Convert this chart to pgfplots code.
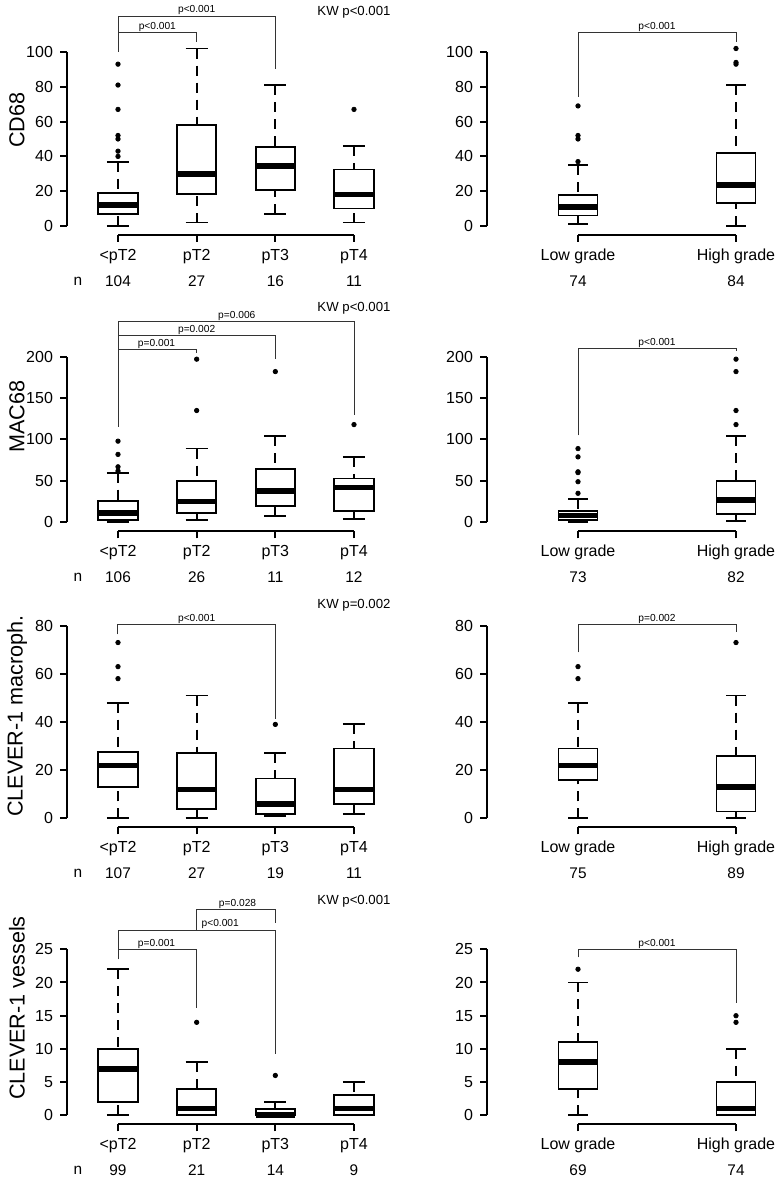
\documentclass[border=0pt]{standalone}
\usepackage{fontspec}
\setmainfont{Liberation Sans}
\usepackage{pgfplots}
\pgfplotsset{compat=1.18}
\usepgfplotslibrary{statistics}
\newcommand{\tf}{\fontsize{8}{9.6}\selectfont}
\newcommand{\nf}{\fontsize{7.7}{9}\selectfont}
\newcommand{\pf}{\fontsize{5.1}{6}\selectfont}
\newcommand{\kf}{\fontsize{6.6}{8}\selectfont}
\newcommand{\lf}{\fontsize{10.8}{13}\selectfont}
\definecolor{brk}{HTML}{333333}
\tikzset{br/.style={brk, line width=0.5pt}}
\pgfplotsset{
  /pgfplots/boxplot/every box/.style={fill=white, line width=0.9pt},
  /pgfplots/boxplot/every median/.style={line width=2.8pt},
  /pgfplots/boxplot/draw/lower whisker/.code={%
    \draw[line width=0.9pt, dash pattern=on 5pt off 3.5pt]
      (boxplot cs:\pgfplotsboxplotvalue{lower whisker}) -- (boxplot cs:\pgfplotsboxplotvalue{lower quartile});
    \draw[line width=0.9pt]
      (boxplot whisker cs:\pgfplotsboxplotvalue{lower whisker},0) -- (boxplot whisker cs:\pgfplotsboxplotvalue{lower whisker},1);
  },
  /pgfplots/boxplot/draw/upper whisker/.code={%
    \draw[line width=0.9pt, dash pattern=on 5pt off 3.5pt]
      (boxplot cs:\pgfplotsboxplotvalue{upper whisker}) -- (boxplot cs:\pgfplotsboxplotvalue{upper quartile});
    \draw[line width=0.9pt]
      (boxplot whisker cs:\pgfplotsboxplotvalue{upper whisker},0) -- (boxplot whisker cs:\pgfplotsboxplotvalue{upper whisker},1);
  },
  base/.style={
    scale only axis, clip=false,
    axis x line=bottom, axis y line=left,
    axis line style={-, line width=1pt, black},
    axis x line shift=4.5pt,
    tick align=outside, major tick length=3.5pt,
    tick style={line width=1pt, black},
    xticklabel style={font=\tf},
    yticklabel style={font=\tf},
    /pgf/number format/assume math mode=true,
    boxplot/draw direction=y,
    anchor=south west,
  },
  lp/.style={base, xmin=1, xmax=4, width=118pt, xtick={1,2,3,4},
    xticklabels={{<pT2},{pT2},{pT3},{pT4}}, axis y line shift=25.5pt,
    boxplot/box extend=0.5, boxplot/whisker extend=0.28},
  rp/.style={base, xmin=1, xmax=2, width=79pt, xtick={1,2},
    xticklabels={{Low grade},{High grade}}, axis y line shift=45.5pt,
    boxplot/box extend=0.247, boxplot/whisker extend=0.125},
  bx/.style={black, mark=*, mark size=1.1pt, mark options={fill=black, solid}},
}
\begin{document}
\begin{tikzpicture}
\useasboundingbox (0,0) rectangle (389pt,589pt);
% ---------------- Row 1 : CD68 ----------------
\begin{axis}[lp, at={(59pt,476pt)}, height=87pt, ymin=0, ymax=100, ytick={0,20,...,100},
  ylabel={CD68}, ylabel style={font=\lf, at={(axis description cs:-0.428,0.609)}, anchor=center}]
\addplot[bx, boxplot prepared={draw position=1, lower whisker=0, lower quartile=7, median=12, upper quartile=19, upper whisker=37}]
  coordinates {(0,93) (0,81) (0,67) (0,52) (0,50) (0,43) (0,40)};
\addplot[bx, boxplot prepared={draw position=2, lower whisker=2, lower quartile=18.5, median=30, upper quartile=58, upper whisker=102}]
  coordinates {};
\addplot[bx, boxplot prepared={draw position=3, lower whisker=7, lower quartile=20.5, median=34.5, upper quartile=45.5, upper whisker=81}]
  coordinates {};
\addplot[bx, boxplot prepared={draw position=4, lower whisker=2, lower quartile=10, median=18, upper quartile=32.5, upper whisker=46}]
  coordinates {(0,67)};
\draw[br] (axis cs:1,100) -- (axis cs:1,120.6) -- (axis cs:3,120.6) -- (axis cs:3,90.2);
\draw[br] (axis cs:1,111) -- (axis cs:2,111) -- (axis cs:2,106);
\node[font=\pf, anchor=base, yshift=1.6pt, inner sep=0pt] at (axis cs:1.5,111) {p<0.001};
\node[font=\pf, anchor=base, yshift=1.6pt, inner sep=0pt] at (axis cs:2,120.6) {p<0.001};
\node[font=\kf] at (axis cs:4,122.6) {KW p<0.001};
\node[font=\nf] at (axis cs:0.49,0) [yshift=-27.5pt] {n};
\node[font=\nf] at (axis cs:1,0) [yshift=-27.5pt] {104};
\node[font=\nf] at (axis cs:2,0) [yshift=-27.5pt] {27};
\node[font=\nf] at (axis cs:3,0) [yshift=-27.5pt] {16};
\node[font=\nf] at (axis cs:4,0) [yshift=-27.5pt] {11};
\end{axis}
\begin{axis}[rp, at={(289pt,476pt)}, height=87pt, ymin=0, ymax=100, ytick={0,20,...,100}]
\addplot[bx, boxplot prepared={draw position=1, lower whisker=1, lower quartile=6, median=11, upper quartile=18, upper whisker=35}]
  coordinates {(0,69) (0,52) (0,50) (0,37)};
\addplot[bx, boxplot prepared={draw position=2, lower whisker=0, lower quartile=13, median=23.5, upper quartile=42, upper whisker=81}]
  coordinates {(0,102) (0,94) (0,93)};
\draw[br] (axis cs:1,74.4) -- (axis cs:1,111) -- (axis cs:2,111) -- (axis cs:2,106);
\node[font=\pf, anchor=base, yshift=1.6pt, inner sep=0pt] at (axis cs:1.5,111) {p<0.001};
\node[font=\nf] at (axis cs:1,0) [yshift=-27.5pt] {74};
\node[font=\nf] at (axis cs:2,0) [yshift=-27.5pt] {84};
\end{axis}
% ---------------- Row 2 : MAC68 ----------------
\begin{axis}[lp, at={(59pt,327.85pt)}, height=82.8pt, ymin=0, ymax=200, ytick={0,50,...,200},
  ylabel={MAC68}, ylabel style={font=\lf, at={(axis description cs:-0.428,0.636)}, anchor=center}]
\addplot[bx, boxplot prepared={draw position=1, lower whisker=0, lower quartile=3, median=11, upper quartile=26, upper whisker=60}]
  coordinates {(0,98) (0,82) (0,67) (0,62)};
\addplot[bx, boxplot prepared={draw position=2, lower whisker=3, lower quartile=11, median=25, upper quartile=50, upper whisker=89}]
  coordinates {(0,197) (0,135)};
\addplot[bx, boxplot prepared={draw position=3, lower whisker=8, lower quartile=20, median=38, upper quartile=64, upper whisker=104}]
  coordinates {(0,182)};
\addplot[bx, boxplot prepared={draw position=4, lower whisker=4, lower quartile=14, median=42, upper quartile=53, upper whisker=79}]
  coordinates {(0,118)};
\draw[br] (axis cs:1,115.5) -- (axis cs:1,241.9) -- (axis cs:4,241.9) -- (axis cs:4,129.6);
\draw[br] (axis cs:1,225.4) -- (axis cs:3,225.4) -- (axis cs:3,196.8);
\draw[br] (axis cs:1,208.9) -- (axis cs:2,208.9) -- (axis cs:2,204.8);
\node[font=\pf, anchor=base, yshift=1.6pt, inner sep=0pt] at (axis cs:1.49,208.9) {p=0.001};
\node[font=\pf, anchor=base, yshift=1.6pt, inner sep=0pt] at (axis cs:2.0,225.4) {p=0.002};
\node[font=\pf, anchor=base, yshift=1.6pt, inner sep=0pt] at (axis cs:2.51,241.9) {p=0.006};
\node[font=\kf] at (axis cs:4,258.4) {KW p<0.001};
\node[font=\nf] at (axis cs:0.49,0) [yshift=-27.5pt] {n};
\node[font=\nf] at (axis cs:1,0) [yshift=-27.5pt] {106};
\node[font=\nf] at (axis cs:2,0) [yshift=-27.5pt] {26};
\node[font=\nf] at (axis cs:3,0) [yshift=-27.5pt] {11};
\node[font=\nf] at (axis cs:4,0) [yshift=-27.5pt] {12};
\end{axis}
\begin{axis}[rp, at={(289pt,327.85pt)}, height=82.8pt, ymin=0, ymax=200, ytick={0,50,...,200}]
\addplot[bx, boxplot prepared={draw position=1, lower whisker=0, lower quartile=3, median=8, upper quartile=14, upper whisker=28}]
  coordinates {(0,89) (0,79) (0,61) (0,60) (0,49) (0,35)};
\addplot[bx, boxplot prepared={draw position=2, lower whisker=2, lower quartile=10, median=27, upper quartile=50, upper whisker=104}]
  coordinates {(0,197) (0,182) (0,135) (0,118)};
\draw[br] (axis cs:1,105) -- (axis cs:1,209.7) -- (axis cs:2,209.7) -- (axis cs:2,206.4);
\node[font=\pf, anchor=base, yshift=1.6pt, inner sep=0pt] at (axis cs:1.5,209.7) {p<0.001};
\node[font=\nf] at (axis cs:1,0) [yshift=-27.5pt] {73};
\node[font=\nf] at (axis cs:2,0) [yshift=-27.5pt] {82};
\end{axis}
% ---------------- Row 3 : CLEVER-1 macroph. ----------------
\begin{axis}[lp, at={(59pt,179.85pt)}, height=96.3pt, ymin=0, ymax=80, ytick={0,20,...,80},
  ylabel={CLEVER-1 macroph.}, ylabel style={font=\lf, at={(axis description cs:-0.428,0.531)}, anchor=center}]
\addplot[bx, boxplot prepared={draw position=1, lower whisker=0, lower quartile=13, median=22, upper quartile=27.5, upper whisker=48}]
  coordinates {(0,73) (0,63) (0,58)};
\addplot[bx, boxplot prepared={draw position=2, lower whisker=0, lower quartile=3.7, median=12, upper quartile=27, upper whisker=51}]
  coordinates {};
\addplot[bx, boxplot prepared={draw position=3, lower whisker=0.8, lower quartile=1.8, median=6, upper quartile=16.5, upper whisker=27}]
  coordinates {(0,39)};
\addplot[bx, boxplot prepared={draw position=4, lower whisker=1.8, lower quartile=5.8, median=12, upper quartile=29, upper whisker=39}]
  coordinates {};
\draw[br] (axis cs:1,76.4) -- (axis cs:1,80.3) -- (axis cs:3,80.3) -- (axis cs:3,41.2);
\node[font=\pf, anchor=base, yshift=1.6pt, inner sep=0pt] at (axis cs:2.0,80.3) {p<0.001};
\node[font=\kf] at (axis cs:4,88.6) {KW p=0.002};
\node[font=\nf] at (axis cs:0.49,0) [yshift=-27.5pt] {n};
\node[font=\nf] at (axis cs:1,0) [yshift=-27.5pt] {107};
\node[font=\nf] at (axis cs:2,0) [yshift=-27.5pt] {27};
\node[font=\nf] at (axis cs:3,0) [yshift=-27.5pt] {19};
\node[font=\nf] at (axis cs:4,0) [yshift=-27.5pt] {11};
\end{axis}
\begin{axis}[rp, at={(289pt,179.85pt)}, height=96.3pt, ymin=0, ymax=80, ytick={0,20,...,80}]
\addplot[bx, boxplot prepared={draw position=1, lower whisker=0, lower quartile=16, median=22, upper quartile=29, upper whisker=48}]
  coordinates {(0,63) (0,58)};
\addplot[bx, boxplot prepared={draw position=2, lower whisker=0, lower quartile=2.8, median=13, upper quartile=26, upper whisker=51}]
  coordinates {(0,73)};
\draw[br] (axis cs:1,68.9) -- (axis cs:1,80.3) -- (axis cs:2,80.3) -- (axis cs:2,77.2);
\node[font=\pf, anchor=base, yshift=1.6pt, inner sep=0pt] at (axis cs:1.5,80.3) {p=0.002};
\node[font=\nf] at (axis cs:1,0) [yshift=-27.5pt] {75};
\node[font=\nf] at (axis cs:2,0) [yshift=-27.5pt] {89};
\end{axis}
% ---------------- Row 4 : CLEVER-1 vessels ----------------
\begin{axis}[lp, at={(59pt,31.35pt)}, height=83pt, ymin=0, ymax=25, ytick={0,5,...,25},
  ylabel={CLEVER-1 vessels}, ylabel style={font=\lf, at={(axis description cs:-0.428,0.646)}, anchor=center}]
\addplot[bx, boxplot prepared={draw position=1, lower whisker=0, lower quartile=2, median=7, upper quartile=10, upper whisker=22}]
  coordinates {};
\addplot[bx, boxplot prepared={draw position=2, lower whisker=0, lower quartile=0, median=1, upper quartile=4, upper whisker=8}]
  coordinates {(0,14)};
\addplot[bx, boxplot prepared={draw position=3, lower whisker=0, lower quartile=0, median=0, upper quartile=1, upper whisker=2}]
  coordinates {(0,6)};
\addplot[bx, boxplot prepared={draw position=4, lower whisker=0, lower quartile=0, median=1, upper quartile=3, upper whisker=5}]
  coordinates {};
\draw[br] (axis cs:1,23.5) -- (axis cs:1,27.9) -- (axis cs:3,27.9) -- (axis cs:3,9.3);
\draw[br] (axis cs:1,25) -- (axis cs:2,25) -- (axis cs:2,16.1);
\draw[br] (axis cs:2,27.9) -- (axis cs:2,31.0) -- (axis cs:3,31.0) -- (axis cs:3,29.0);
\node[font=\pf, anchor=base, yshift=1.6pt, inner sep=0pt] at (axis cs:1.49,25) {p=0.001};
\node[font=\pf, anchor=base, yshift=1.6pt, inner sep=0pt] at (axis cs:2.30,27.9) {p<0.001};
\node[font=\pf, anchor=base, yshift=1.6pt, inner sep=0pt] at (axis cs:2.52,31.0) {p=0.028};
\node[font=\kf] at (axis cs:4,32.3) {KW p<0.001};
\node[font=\nf] at (axis cs:0.49,0) [yshift=-27.5pt] {n};
\node[font=\nf] at (axis cs:1,0) [yshift=-27.5pt] {99};
\node[font=\nf] at (axis cs:2,0) [yshift=-27.5pt] {21};
\node[font=\nf] at (axis cs:3,0) [yshift=-27.5pt] {14};
\node[font=\nf] at (axis cs:4,0) [yshift=-27.5pt] {9};
\end{axis}
\begin{axis}[rp, at={(289pt,31.35pt)}, height=83pt, ymin=0, ymax=25, ytick={0,5,...,25}]
\addplot[bx, boxplot prepared={draw position=1, lower whisker=0, lower quartile=4, median=8, upper quartile=11, upper whisker=20}]
  coordinates {(0,22)};
\addplot[bx, boxplot prepared={draw position=2, lower whisker=0, lower quartile=0, median=1, upper quartile=5, upper whisker=10}]
  coordinates {(0,15) (0,14)};
\draw[br] (axis cs:1,23.8) -- (axis cs:1,25) -- (axis cs:2,25) -- (axis cs:2,16.9);
\node[font=\pf, anchor=base, yshift=1.6pt, inner sep=0pt] at (axis cs:1.5,25) {p<0.001};
\node[font=\nf] at (axis cs:1,0) [yshift=-27.5pt] {69};
\node[font=\nf] at (axis cs:2,0) [yshift=-27.5pt] {74};
\end{axis}
\end{tikzpicture}
\end{document}
